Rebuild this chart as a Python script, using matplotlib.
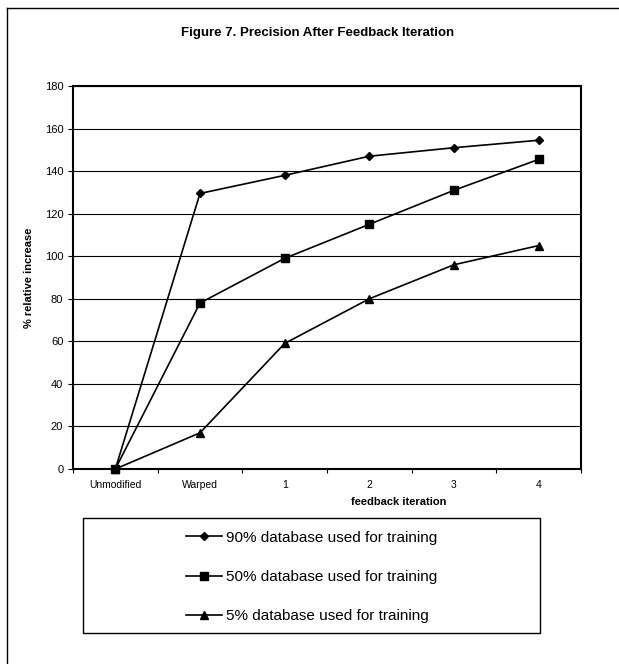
import matplotlib
matplotlib.use("Agg")
import matplotlib.pyplot as plt
from matplotlib.lines import Line2D
from matplotlib.patches import Rectangle

plt.rcParams['font.family'] = ['Liberation Sans', 'DejaVu Sans']

# --- data ---
categories = ["Unmodified", "Warped", "1", "2", "3", "4"]
series_labels = ["90% database used for training",
                 "50% database used for training",
                 "5% database used for training"]
vals_90 = [0, 129.5, 138, 147, 151, 154.5]
vals_50 = [0, 78, 99, 115, 131, 145.5]
vals_5 = [0, 17, 59, 80, 96, 105]
y_ticks = [0, 20, 40, 60, 80, 100, 120, 140, 160, 180]

W, H = 619, 664
fig = plt.figure(figsize=(W / 100, H / 100), dpi=100)


def fx(px):
    return px / W


def fy(py):
    return 1 - py / H


# outer chart frame (runs off the right and bottom edges)
fig.add_artist(Line2D([fx(6.7), 1.0], [fy(8), fy(8)], color="black", lw=1.0))
fig.add_artist(Line2D([fx(6.7), fx(6.7)], [fy(8), 0.0], color="black", lw=1.0))

# plot area
ax = fig.add_axes([fx(73), fy(469), fx(581) - fx(73), fy(86) - fy(469)])
x = list(range(len(categories)))
markers = ["D", "s", "^"]
sizes = [5.5, 7, 7]
for vals, mk, ms, lab in zip([vals_90, vals_50, vals_5], markers, sizes, series_labels):
    ax.plot(x, vals, color="black", lw=1.2, marker=mk, markersize=ms,
            markerfacecolor="black", markeredgecolor="black", label=lab,
            clip_on=False, zorder=3)

ax.set_xlim(-0.5, len(categories) - 0.5)
ax.set_ylim(0, 180)
ax.set_yticks(y_ticks)
ax.set_yticklabels([str(v) for v in y_ticks], fontsize=8)
ax.tick_params(axis="y", direction="out", length=3.6, width=0.8, pad=3.4)

# category axis: tick marks between categories, labels at the centres
ax.set_xticks([i - 0.5 for i in range(len(categories) + 1)])
ax.set_xticklabels([""] * (len(categories) + 1))
ax.set_xticks(x, minor=True)
ax.set_xticklabels(categories, minor=True, fontsize=7.5)
ax.tick_params(axis="x", which="major", direction="out", length=3, width=0.8)
ax.tick_params(axis="x", which="minor", length=0, pad=8)

ax.yaxis.grid(True, color="black", lw=0.8)
ax.set_axisbelow(True)
for sp in ax.spines.values():
    sp.set_linewidth(1.5)
    sp.set_color("black")

# titles
fig.text(fx(318), fy(33), "Figure 7. Precision After Feedback Iteration",
         ha="center", va="center", fontsize=9.5, fontweight="bold")
fig.text(fx(399), fy(502), "feedback iteration", ha="center", va="center",
         fontsize=8, fontweight="bold")
fig.text(fx(29), fy(277.5), "% relative increase", ha="center", va="center",
         rotation=90, fontsize=8, fontweight="bold")

# legend box
fig.add_artist(Rectangle((fx(83), fy(633)), fx(540) - fx(83), fy(518) - fy(633),
                         transform=fig.transFigure, fill=False,
                         edgecolor="black", lw=1.0))
handles, labels = ax.get_legend_handles_labels()
for h, ms in zip(handles, [4.5, 6, 6]):
    h.set_markersize(ms)
fig.legend(handles, labels, loc="center", bbox_to_anchor=(fx(311.5), fy(577)),
           frameon=False, fontsize=11, handlelength=2.4, handletextpad=0.25,
           labelspacing=1.65)

fig.savefig("out.png", dpi=100)
